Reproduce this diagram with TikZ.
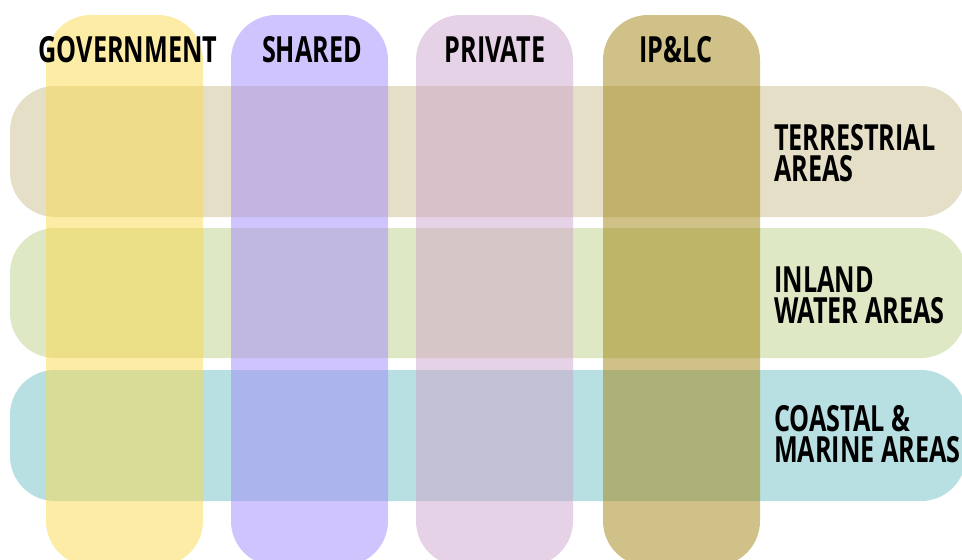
\documentclass[tikz,border=0pt]{standalone}
\usepackage{fontspec}
\setmainfont{Open Sans}[FakeStretch=0.7]
\definecolor{terrcol}{RGB}{203,191,145}
\definecolor{inlandcol}{RGB}{191,209,137}
\definecolor{coastcol}{RGB}{113,191,195}
\definecolor{govcol}{RGB}{249,217,77}
\definecolor{sharedcol}{RGB}{161,137,253}
\definecolor{privcol}{RGB}{205,165,205}
\definecolor{iplccol}{RGB}{159,131,15}

\begin{document}
\begin{tikzpicture}[x=1pt, y=-1pt,
    band/.style={rounded corners=45pt, fill opacity=0.5},
    lbl/.style={font=\bfseries\fontsize{36}{31}\selectfont, inner sep=0pt}]
    \useasboundingbox (0, 0) rectangle (962, 560);
    % rows
    \fill[band, fill=terrcol] (10, 86) rectangle (966, 217);
    \fill[band, fill=inlandcol] (10, 228) rectangle (966, 358);
    \fill[band, fill=coastcol] (10, 370) rectangle (966, 501);
    % columns
    \fill[band, fill=govcol] (46, 15) rectangle (203, 566);
    \fill[band, fill=sharedcol] (231, 15) rectangle (388, 566);
    \fill[band, fill=privcol] (416, 15) rectangle (573, 566);
    \fill[band, fill=iplccol] (603, 15) rectangle (760, 566);
    % column labels
    \node[lbl, anchor=base] (gov) at (128, 62) {GOVERNMENT};
    \node[lbl, anchor=base] (shared) at (312, 62) {SHARED};
    \node[lbl, anchor=base] (priv) at (495, 62) {PRIVATE};
    \node[lbl, anchor=base] (iplc) at (676, 62) {IP\&LC};
    % row labels
    \node[lbl, anchor=west, align=left] (terr) at (774, 153) {TERRESTRIAL\\AREAS};
    \node[lbl, anchor=west, align=left] (inland) at (774, 295) {INLAND\\WATER AREAS};
    \node[lbl, anchor=west, align=left] (coast) at (774, 434) {COASTAL \&\\MARINE AREAS};
\end{tikzpicture}
\end{document}
